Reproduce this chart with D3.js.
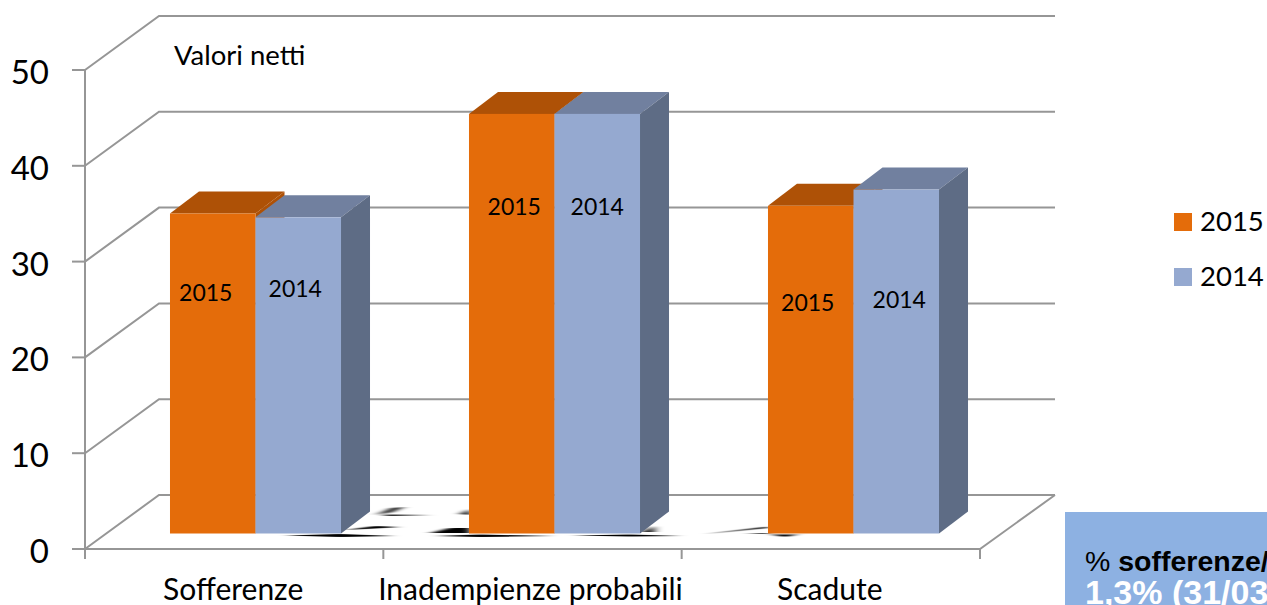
<!DOCTYPE html>
<html>
<head>
<meta charset="utf-8">
<script src="https://d3js.org/d3.v7.min.js"></script>
<style>
html, body { margin: 0; padding: 0; background: #fff; overflow: hidden; }
svg { display: block; }
text { font-family: Lato, "Noto Sans", sans-serif; fill: #000; }
</style>
</head>
<body>
<svg></svg>
<script>
const categories = ["Sofferenze", "Inadempienze probabili", "Scadute"];
const seriesNames = ["2015", "2014"];
const values2015 = [33.4, 43.8, 34.2];
const values2014 = [33.0, 43.8, 35.9];
const yTicks = [0, 10, 20, 30, 40, 50];

const width = 1267, height = 605;
const svg = d3.select("svg").attr("width", width).attr("height", height);

// front plane of the box and how far the back wall is shifted
const x0 = 85, x1 = 980;
const wallDx = 74, wallDy = -54;
// bars stand a bit inside the floor
const barDx = 21, barDy = -15.5;
const depthDx = 29, depthDy = -22;

const y = d3.scaleLinear().domain([0, 50]).range([549, 70]);
const xEdge = d3.scaleLinear().domain([0, categories.length]).range([x0, x1]);
const xCat = d3.scaleBand().domain(categories).range([x0 + barDx, x1 + barDx + 2]).paddingInner(0.428).paddingOuter(0.214);
const xSer = d3.scaleBand().domain(seriesNames).range([0, xCat.bandwidth()]);

const colors = {
    "2015": { front: "#e46c0a", top: "#ae5106", side: "#ae5106" },
    "2014": { front: "#95a9d0", top: "#71809f", side: "#5e6c85" }
};

// the year labels were placed by hand in the original: [dx, centre y] per bar
const labelPlaces = {
    "2015": [[-7, 293], [2.5, 207], [-3, 303]],
    "2014": [[-3, 289], [0, 207], [3, 300]]
};

const grid = svg.append("g").attr("fill", "none").attr("stroke", "#969696").attr("stroke-width", 2);

// back wall lines + left wall diagonals
yTicks.forEach(t => {
    grid.append("path").attr("d", d3.line()([
        [x0, y(t)], [x0 + wallDx, y(t) + wallDy], [x1 + wallDx + 1, y(t) + wallDy]
    ]));
    grid.append("line").attr("x1", x0 - 13).attr("x2", x0).attr("y1", y(t)).attr("y2", y(t));
});
grid.append("line").attr("x1", x0).attr("x2", x0).attr("y1", y(50)).attr("y2", y(0) + 10);

// floor front edge, right edge and category ticks
grid.append("path").attr("d", d3.line()([
    [x0, y(0)], [x1, y(0)], [x1 + wallDx + 1, y(0) + wallDy]
]));
d3.range(categories.length + 1).forEach(i => {
    grid.append("line").attr("x1", xEdge(i)).attr("x2", xEdge(i)).attr("y1", y(0)).attr("y2", y(0) + 10);
});

// smeared reflection on the floor, thin lens shapes
const defs = svg.append("defs");
defs.append("filter").attr("id", "smear").attr("x", "-30%").attr("y", "-100%").attr("width", "160%").attr("height", "300%")
    .append("feGaussianBlur").attr("stdDeviation", "5 0.5");
const smearShapes = [
    [[376, 515], [392, 508], [404, 507], [392, 512]],
    [[385, 514.5], [432, 515], [385, 516]],
    [[345, 530], [375, 526], [400, 527], [375, 528.5]],
    [[285, 535.5], [340, 534], [395, 536], [340, 537]],
    [[430, 533], [450, 528], [470, 528], [470, 533]],
    [[460, 514], [470, 509], [470, 515]],
    [[435, 536], [480, 534.5], [555, 536], [480, 537]],
    [[572, 535.5], [630, 534.5], [682, 536], [630, 536.5]],
    [[642, 532], [654, 526], [654, 532]],
    [[705, 534], [768, 526.5], [768, 528]],
    [[745, 533.5], [768, 533], [768, 534]],
    [[770, 534.5], [798, 534.5], [785, 537]]
];
svg.append("g").attr("filter", "url(#smear)").attr("fill", "#000")
    .selectAll("path").data(smearShapes).join("path").attr("d", d => d3.line()(d) + "Z");

const barData = categories.map((c, i) => ({
    category: c,
    bars: [
        { name: "2015", value: values2015[i], index: i },
        { name: "2014", value: values2014[i], index: i }
    ]
}));

const y0 = y(0) + barDy;
const groups = svg.append("g").selectAll("g").data(barData).join("g")
    .attr("transform", d => `translate(${xCat(d.category)},0)`);

groups.each(function(d) {
    const g = d3.select(this);
    d.bars.forEach(b => {
        const left = xSer(b.name), w = xSer.bandwidth(), top = y(b.value) + barDy;
        const place = labelPlaces[b.name][b.index];
        g.append("path").attr("fill", colors[b.name].top)
            .attr("d", d3.line()([[left, top], [left + depthDx, top + depthDy], [left + w + depthDx, top + depthDy], [left + w, top]]) + "Z");
        g.append("path").attr("fill", colors[b.name].side)
            .attr("d", d3.line()([[left + w, top], [left + w + depthDx, top + depthDy], [left + w + depthDx, y0 + depthDy], [left + w, y0]]) + "Z");
        g.append("rect").attr("x", left).attr("y", top).attr("width", w).attr("height", y0 - top)
            .attr("fill", colors[b.name].front);
        g.append("text")
            .attr("x", left + w / 2 + place[0])
            .attr("y", place[1] + 8)
            .attr("text-anchor", "middle")
            .attr("font-size", 23)
            .text(b.name);
    });
});

// axis labels
svg.append("g").selectAll("text").data(yTicks).join("text")
    .attr("x", 49).attr("y", d => y(d) + 14)
    .attr("text-anchor", "end").attr("font-size", 33)
    .text(d => d);
svg.append("g").selectAll("text").data(categories).join("text")
    .attr("x", (d, i) => (xEdge(i) + xEdge(i + 1)) / 2 - (i === 0 ? 1 : i === 2 ? 1 : 2))
    .attr("y", 600)
    .attr("text-anchor", "middle").attr("font-size", 30)
    .text(d => d);

svg.append("text").attr("x", 174).attr("y", 65).attr("font-size", 27.5).text("Valori netti");

// legend
const legend = svg.append("g").selectAll("g").data(seriesNames).join("g")
    .attr("transform", (d, i) => `translate(1174,${213 + i * 55})`);
legend.append("rect").attr("width", 18).attr("height", 18).attr("fill", d => colors[d].front);
legend.append("text").attr("x", 26).attr("y", 18).attr("font-size", 27.5).text(d => d);

// note box, runs off the edge of the picture
svg.append("rect").attr("x", 1065).attr("y", 512).attr("width", 202).attr("height", 93).attr("fill", "#8db1e2");
const note = svg.append("text").attr("x", 1085).attr("y", 571).attr("font-size", 28.5)
    .style("font-family", "'Liberation Sans', Arial, sans-serif");
note.append("tspan").text("% ");
note.append("tspan").attr("font-weight", "bold").text("sofferenze/");
svg.append("text").attr("x", 1085).attr("y", 603.5).attr("font-size", 34).attr("font-weight", "bold")
    .style("font-family", "'Liberation Sans', Arial, sans-serif").style("fill", "#fff")
    .text("1,3% (31/03");
</script>
</body>
</html>
